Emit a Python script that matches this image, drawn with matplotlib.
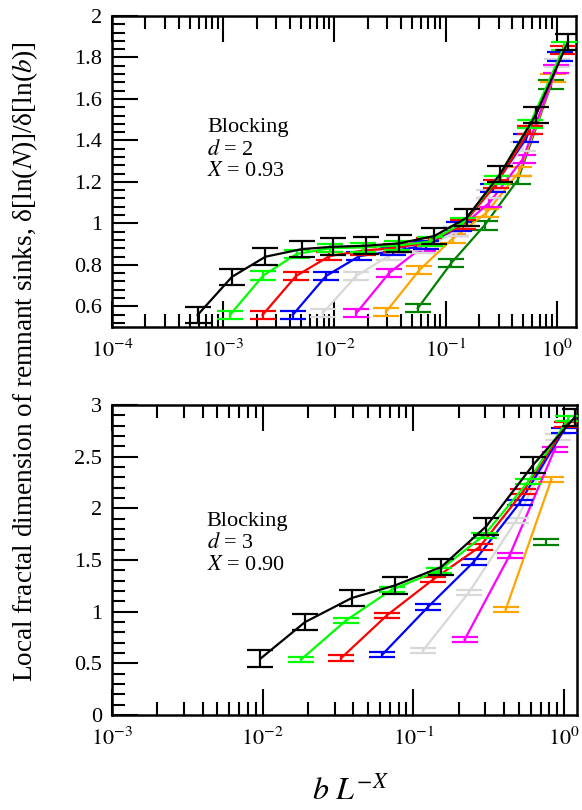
import numpy as np
import matplotlib
matplotlib.use('Agg')
import matplotlib.pyplot as plt
from matplotlib.ticker import LogLocator, MultipleLocator, FuncFormatter, NullFormatter

plt.rcParams['font.family'] = ['Liberation Serif', 'DejaVu Serif']
plt.rcParams['mathtext.fontset'] = 'stix'

series_colors = ['black', '#00ff00', '#ff0000', '#0000ff', '#d8d8d8', '#ff00ff', '#ffa500', '#008000']

# ---- top panel: Blocking, d = 2, X = 0.93 ----
top_x_black = [5.89e-4, 1.20e-3, 2.40e-3, 5.13e-3, 9.77e-3, 0.0191, 0.0380, 0.0794, 0.155, 0.309, 0.646, 1.26]
top_y_black = [0.558, 0.742, 0.839, 0.876, 0.887, 0.892, 0.903, 0.939, 1.027, 1.237, 1.522, 1.875]
top_x_green = [1.15e-3, 2.29e-3, 4.57e-3, 9.12e-3, 0.0182, 0.0363, 0.0724, 0.145, 0.288, 0.575, 1.17]
top_y_green = [0.558, 0.748, 0.852, 0.880, 0.884, 0.893, 0.912, 1.005, 1.21, 1.48, 1.855]
top_x_red = [2.26e-3, 4.52e-3, 9.02e-3, 0.0180, 0.0359, 0.0716, 0.143, 0.285, 0.569, 1.135]
top_y_red = [0.558, 0.746, 0.842, 0.868, 0.882, 0.91, 0.995, 1.19, 1.45, 1.835]
top_x_blue = [4.22e-3, 8.41e-3, 0.0168, 0.0335, 0.0668, 0.133, 0.266, 0.531, 1.07]
top_y_blue = [0.558, 0.746, 0.842, 0.865, 0.895, 0.985, 1.17, 1.41, 1.805]
top_x_gray = [7.85e-3, 0.0157, 0.0313, 0.0624, 0.124, 0.248, 0.495, 1.0]
top_y_gray = [0.566, 0.746, 0.845, 0.875, 0.96, 1.14, 1.37, 1.775]
top_x_magenta = [0.0157, 0.0313, 0.0624, 0.124, 0.248, 0.495, 0.99]
top_y_magenta = [0.566, 0.762, 0.887, 0.96, 1.10, 1.31, 1.745]
top_x_orange = [0.0292, 0.0582, 0.116, 0.232, 0.462, 0.923]
top_y_orange = [0.574, 0.775, 0.927, 1.05, 1.25, 1.70]
top_x_dkgreen = [0.0562, 0.112, 0.224, 0.447, 0.891]
top_y_dkgreen = [0.59, 0.807, 0.99, 1.21, 1.67]
top_err_black = 0.04
top_err_other = 0.02

# ---- bottom panel: Blocking, d = 3, X = 0.90 ----
bot_x_black = [9.66e-3, 0.0191, 0.0390, 0.0759, 0.153, 0.305, 0.622, 1.175]
bot_y_black = [0.545, 0.899, 1.132, 1.255, 1.432, 1.826, 2.418, 2.88]
bot_x_green = [0.0180, 0.0358, 0.0719, 0.149, 0.295, 0.577, 1.07]
bot_y_green = [0.538, 0.916, 1.213, 1.40, 1.74, 2.256, 2.87]
bot_x_red = [0.0332, 0.0667, 0.135, 0.275, 0.535, 1.04]
bot_y_red = [0.551, 0.964, 1.31, 1.626, 2.159, 2.815]
bot_x_blue = [0.0621, 0.125, 0.251, 0.508, 1.0]
bot_y_blue = [0.583, 1.045, 1.48, 2.053, 2.757]
bot_x_gray = [0.116, 0.233, 0.483, 0.912]
bot_y_gray = [0.625, 1.184, 1.885, 2.69]
bot_x_magenta = [0.219, 0.436, 0.867]
bot_y_magenta = [0.729, 1.546, 2.57]
bot_x_orange = [0.410, 0.824]
bot_y_orange = [1.019, 2.279]
bot_x_dkgreen = [0.757]
bot_y_dkgreen = [1.675]
bot_err_black = 0.08
bot_err_other = 0.025

top_series = [(top_x_black, top_y_black), (top_x_green, top_y_green), (top_x_red, top_y_red),
              (top_x_blue, top_y_blue), (top_x_gray, top_y_gray), (top_x_magenta, top_y_magenta),
              (top_x_orange, top_y_orange), (top_x_dkgreen, top_y_dkgreen)]
bot_series = [(bot_x_black, bot_y_black), (bot_x_green, bot_y_green), (bot_x_red, bot_y_red),
              (bot_x_blue, bot_y_blue), (bot_x_gray, bot_y_gray), (bot_x_magenta, bot_y_magenta),
              (bot_x_orange, bot_y_orange), (bot_x_dkgreen, bot_y_dkgreen)]

W, H = 582, 810
fig = plt.figure(figsize=(W / 100, H / 100), dpi=100)
ax1 = fig.add_axes([112 / W, 1 - 327 / H, 464 / W, 311 / H])
ax2 = fig.add_axes([112 / W, 1 - 715 / H, 465 / W, 310 / H])


def draw(ax, series, eb, eo):
    for i in range(len(series) - 1, -1, -1):
        x, y = series[i]
        e = eb if i == 0 else eo
        ax.errorbar(x, y, yerr=e, color=series_colors[i], lw=1.6, elinewidth=1.6,
                    capsize=9.5, capthick=1.6, zorder=3 + (len(series) - i))


draw(ax1, top_series, top_err_black, top_err_other)
draw(ax2, bot_series, bot_err_black, bot_err_other)


def logfmt(v, pos):
    e = int(round(np.log10(v)))
    return r'$10^{%d}$' % e


def yfmt(v, pos):
    return '%g' % round(v, 3)


for ax in (ax1, ax2):
    ax.set_xscale('log')
    ax.xaxis.set_major_locator(LogLocator(base=10, numticks=10))
    ax.xaxis.set_minor_locator(LogLocator(base=10, subs=np.arange(2, 10), numticks=20))
    ax.xaxis.set_major_formatter(FuncFormatter(logfmt))
    ax.xaxis.set_minor_formatter(NullFormatter())
    ax.yaxis.set_major_formatter(FuncFormatter(yfmt))
    ax.tick_params(which='both', direction='in', top=True, right=False, bottom=True, left=True,
                   labelsize=16)
    ax.tick_params(which='major', length=19, width=1.5)
    ax.tick_params(which='minor', length=9.5, width=1.5)
    ax.tick_params(axis='x', which='major', pad=9)
    ax.tick_params(axis='y', which='major', pad=7)
    for s in ax.spines.values():
        s.set_linewidth(1.8)

ax1.set_xlim(1e-4, 1.49)
ax1.set_ylim(0.5, 2.0)
ax1.yaxis.set_major_locator(MultipleLocator(0.2))
ax1.yaxis.set_minor_locator(MultipleLocator(0.04))

ax2.set_xlim(1e-3, 1.22)
ax2.set_ylim(0, 3)
ax2.yaxis.set_major_locator(MultipleLocator(0.5))
ax2.yaxis.set_minor_locator(MultipleLocator(0.1))

ax1.text(0.205, 0.627, 'Blocking', transform=ax1.transAxes, fontsize=16, va='baseline')
ax1.text(0.205, 0.553, r'$d$ = 2', transform=ax1.transAxes, fontsize=16, va='baseline')
ax1.text(0.205, 0.486, r'$X$ = 0.93', transform=ax1.transAxes, fontsize=16, va='baseline')

ax2.text(0.204, 0.61, 'Blocking', transform=ax2.transAxes, fontsize=16, va='baseline')
ax2.text(0.204, 0.538, r'$d$ = 3', transform=ax2.transAxes, fontsize=16, va='baseline')
ax2.text(0.204, 0.468, r'$X$ = 0.90', transform=ax2.transAxes, fontsize=16, va='baseline')

fig.text(25 / W, 1 - 362 / H, r'Local fractal dimension of remnant sinks, δ[ln($N$)]/δ[ln($b$)]',
         rotation=90, ha='center', va='center', fontsize=19.6)
fig.text(350 / W, 1 - 800 / H, r'$b\ L^{-X}$', ha='center', va='baseline', fontsize=23)

fig.savefig('out.png', dpi=100)
